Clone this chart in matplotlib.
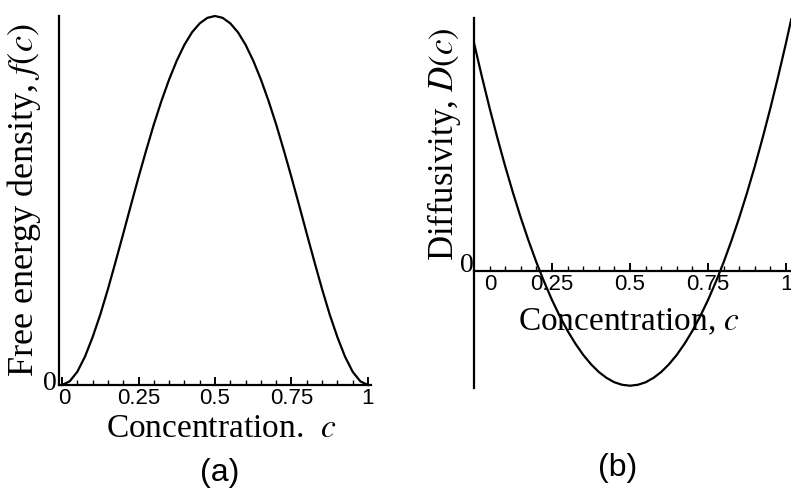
import matplotlib
matplotlib.use("Agg")
import matplotlib.pyplot as plt
from matplotlib.ticker import MultipleLocator
from matplotlib.transforms import ScaledTranslation

# concentration samples
conc = [0.0, 0.025, 0.05, 0.075, 0.1, 0.125, 0.15, 0.175, 0.2, 0.225, 0.25,
        0.275, 0.3, 0.325, 0.35, 0.375, 0.4, 0.425, 0.45, 0.475, 0.5,
        0.525, 0.55, 0.575, 0.6, 0.625, 0.65, 0.675, 0.7, 0.725, 0.75,
        0.775, 0.8, 0.825, 0.85, 0.875, 0.9, 0.925, 0.95, 0.975, 1.0]

# (a) free energy density, scaled so the peak is 1
free_energy = [0.0, 0.010, 0.036, 0.077, 0.130, 0.191, 0.260, 0.334, 0.410, 0.487, 0.563,
               0.636, 0.706, 0.770, 0.828, 0.879, 0.922, 0.956, 0.980, 0.995, 1.000,
               0.995, 0.980, 0.956, 0.922, 0.879, 0.828, 0.770, 0.706, 0.636, 0.563,
               0.487, 0.410, 0.334, 0.260, 0.191, 0.130, 0.077, 0.036, 0.010, 0.0]

# (b) diffusivity, runs a little past c = 1 where it leaves the frame
conc_b = conc + [1.025]
diffusivity = [1.0, 0.854, 0.715, 0.584, 0.460, 0.344, 0.235, 0.134, 0.040, -0.046, -0.125,
               -0.196, -0.260, -0.316, -0.365, -0.406, -0.440, -0.466, -0.485, -0.496, -0.500,
               -0.496, -0.485, -0.466, -0.440, -0.406, -0.365, -0.316, -0.260, -0.196, -0.125,
               -0.046, 0.040, 0.134, 0.235, 0.344, 0.460, 0.584, 0.715, 0.854, 1.0, 1.154]

xtick_vals = [0, 0.25, 0.5, 0.75, 1]
xtick_text = ["0", "0.25", "0.5", "0.75", "1"]

plt.rcParams['mathtext.fontset'] = 'stix'
SERIF = 'Liberation Serif'
SANS = 'Liberation Sans'

fig = plt.figure(figsize=(7.91, 4.93), dpi=100)
ax1 = fig.add_axes([59 / 791, 108 / 493, 312 / 791, 369 / 493])
ax2 = fig.add_axes([474 / 791, 105 / 493, 317 / 791, 370 / 493])


def shift(label, dx, dy):
    # nudge a label by a few pixels
    label.set_transform(label.get_transform() + ScaledTranslation(dx / 100, dy / 100, fig.dpi_scale_trans))


def style_axes(ax, ypad):
    for s in ['top', 'right']:
        ax.spines[s].set_visible(False)
    ax.spines['left'].set_linewidth(1.6)
    ax.spines['bottom'].set_linewidth(1.6)
    ax.spines['bottom'].set_position(('data', 0))
    ax.set_xticks(xtick_vals)
    ax.set_xticklabels(xtick_text, family=SANS, fontsize=16)
    ax.xaxis.set_minor_locator(MultipleLocator(0.05))
    ax.tick_params(axis='x', which='major', direction='in', length=6, width=1.4, pad=2)
    ax.tick_params(axis='x', which='minor', direction='in', length=3.5, width=1.0)
    ax.set_yticks([0])
    ax.set_yticklabels(["0"], family=SERIF, fontsize=20)
    ax.tick_params(axis='y', length=0, pad=ypad)


# (a)
ax1.plot(conc, free_energy, color='black', lw=1.6, clip_on=False)
ax1.set_xlim(-0.01, 1.01)
ax1.set_ylim(0, 1.0)
style_axes(ax1, 1.5)
shift(ax1.get_yticklabels()[0], 0, 5)
shift(ax1.get_xticklabels()[0], 2, 0)
ax1.set_xlabel(r"Concentration.  $c$", family=SERIF, fontsize=24)
ax1.xaxis.label.set_verticalalignment('baseline')
ax1.xaxis.set_label_coords(0.519, -0.141)
ax1.set_ylabel(r"Free energy density, $f(c)$", family=SERIF, fontsize=26)
ax1.yaxis.label.set_verticalalignment('baseline')
ax1.yaxis.set_label_coords(-0.083, 0.501)

# (b)
ax2.plot(conc_b, diffusivity, color='black', lw=1.6)
ax2.set_xlim(0, 1.016)
ax2.set_ylim(-0.51, 1.109)
style_axes(ax2, 0.5)
shift(ax2.get_xticklabels()[0], 16, 0)
shift(ax2.get_yticklabels()[0], 0, 9)
ax2.set_xlabel(r"Concentration, $c$", family=SERIF, fontsize=24)
ax2.xaxis.label.set_verticalalignment('baseline')
ax2.xaxis.set_label_coords(0.489, 0.157)
ax2.set_ylabel(r"Diffusivity, $D(c)$", family=SERIF, fontsize=25)
ax2.yaxis.label.set_verticalalignment('baseline')
ax2.yaxis.set_label_coords(-0.066, 0.659)

fig.text(220 / 791, 1 - 473 / 493, "(a)", family=SANS, fontsize=23, ha='center', va='center')
fig.text(618 / 791, 1 - 468 / 493, "(b)", family=SANS, fontsize=23, ha='center', va='center')

fig.savefig("out.png", dpi=100)
